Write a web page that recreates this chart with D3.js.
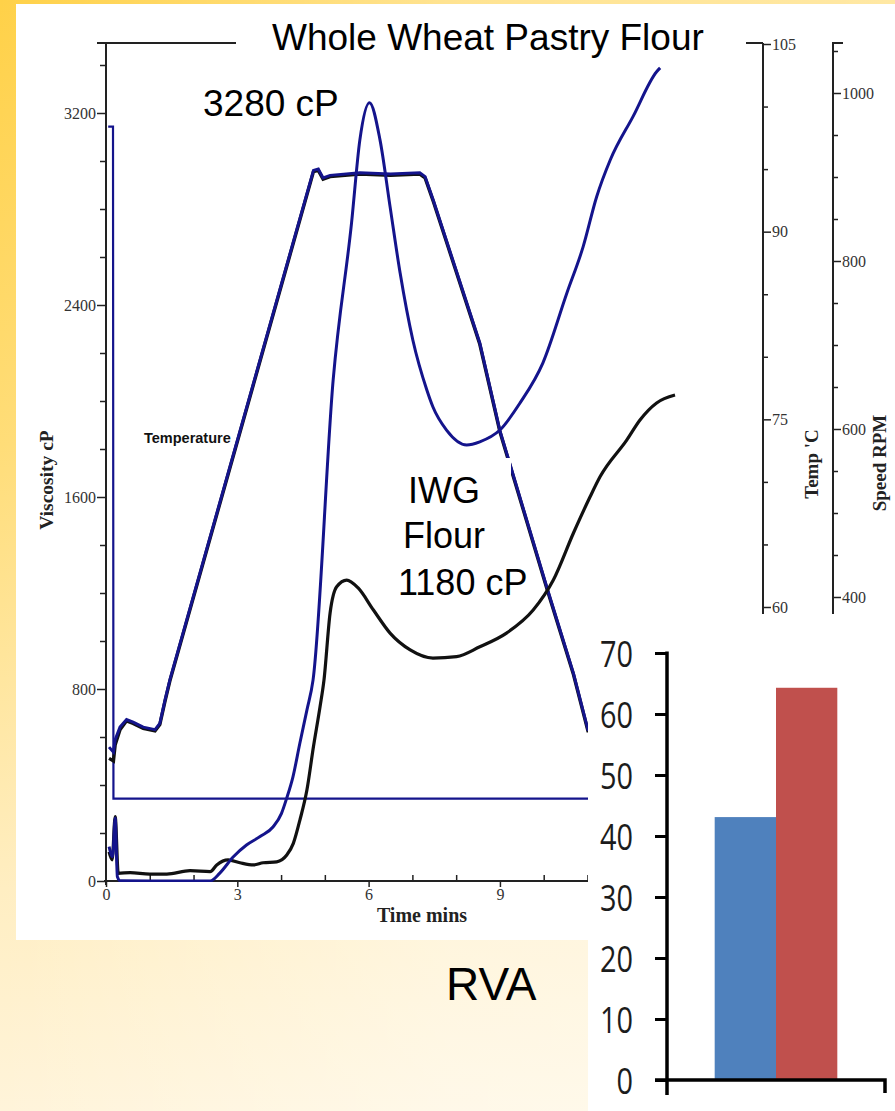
<!DOCTYPE html>
<html><head><meta charset="utf-8">
<script src="https://cdn.jsdelivr.net/npm/d3@7"></script>
<style>html,body{margin:0;padding:0;background:#fff;}svg{display:block;}</style>
</head><body>
<script>
// ---------- DATA ----------
// RVA time axis (minutes)
const timeTicksMajor = [0, 3, 6, 9];
const viscTicksMajor = [0, 800, 1600, 2400, 3200];
const tempTicksMajor = [60, 75, 90, 105];
const speedTicksMajor = [400, 600, 800, 1000];

// Whole wheat pastry flour viscosity (cP) [time, value]
const wwpfTime = [0.07,0.15,0.21,0.26,0.32,1.0,2.38,2.60,2.91,3.21,3.52,3.82,4.01,4.13,4.27,4.43,4.59,4.73,5.19,5.61,5.80,6.02,6.26,6.49,6.72,7.01,7.33,7.47,7.78,8.24,8.54,9.00,9.46,9.98,10.53,10.90,11.21,11.52,12.04,12.58,12.66];
const wwpfVisc = [143,101,262,18,1,0,0,33,101,150,185,226,282,346,433,575,712,837,2088,2742,3088,3243,3088,2810,2533,2254,2046,1975,1879,1817,1830,1879,1992,2158,2450,2642,2851,3004,3185,3372,3388];

// IWG flour viscosity (cP)
const iwgTime = [0.07,0.14,0.21,0.28,0.55,1.0,1.39,1.92,2.38,2.53,2.79,3.06,3.37,3.59,3.90,4.13,4.28,4.43,4.59,4.74,4.89,4.98,5.12,5.27,5.50,5.76,6.11,6.49,6.95,7.47,8.01,8.54,9.15,9.76,10.22,10.68,11.06,11.29,11.90,12.20,12.58,13.0];
const iwgVisc = [121,88,268,32,35,29,29,43,39,67,88,76,67,76,80,108,157,254,379,560,726,837,1117,1226,1254,1221,1129,1033,963,929,935,976,1033,1129,1254,1450,1601,1685,1838,1921,1992,2025];

// Temperature profile (°C)
const tempTime = [0.07,0.17,0.21,0.32,0.47,0.62,0.85,1.12,1.23,1.35,1.46,4.74,4.85,4.96,5.12,5.8,6.5,7.17,7.29,7.48,8.54,9.00,10.07,10.68,11.01,13.0];
const tempBlue = [48.8,48.4,49.4,50.4,51.0,50.8,50.4,50.2,50.7,52.6,54.2,94.9,95.0,94.3,94.5,94.7,94.6,94.7,94.4,92.5,81.1,74.1,61.6,54.7,50.2,50.2];
const tempBlack = [47.9,47.7,49.0,50.2,50.9,50.7,50.3,50.1,50.6,52.5,54.1,94.8,94.9,94.2,94.4,94.6,94.5,94.6,94.3,92.4,81.0,74.0,61.5,54.6,50.1,50.1];

// Paddle speed profile (rpm)
const speedTime = [0.05,0.16,0.17,13.0];
const speedRpm = [960,960,160,160];

// Bar chart
const barCategories = [""];
const barSeries = ["IWG", "WWPF"];
const barValues = [43.1, 64.3];
const barTicks = [0,10,20,30,40,50,60,70];

// ---------- DRAWING ----------
const W = 895, H = 1111;
const svg = d3.select("body").append("svg").attr("width", W).attr("height", H);
const defs = svg.append("defs");
const g1 = defs.append("linearGradient").attr("id","bgv").attr("x1",0).attr("y1",0).attr("x2",0).attr("y2",1);
[[0,"#FFD148"],[0.4,"#FFDD78"],[0.8,"#FFEEC2"],[1,"#FFF4DA"]].forEach(s=>g1.append("stop").attr("offset",s[0]).attr("stop-color",s[1]));
const g2 = defs.append("linearGradient").attr("id","bgh").attr("x1",0).attr("y1",0).attr("x2",1).attr("y2",0);
[[0,0],[0.5,0.4],[1,0.5]].forEach(s=>g2.append("stop").attr("offset",s[0]).attr("stop-color","#fff").attr("stop-opacity",s[1]));
svg.append("rect").attr("width",W).attr("height",H).attr("fill","url(#bgv)");
svg.append("rect").attr("width",W).attr("height",H).attr("fill","url(#bgh)");

// RVA white panel
svg.append("rect").attr("x",16).attr("y",4).attr("width",W-16).attr("height",936).attr("fill","#fff");

const x = d3.scaleLinear().domain([0,13]).range([106, 106+13*43.77]);
const yV = d3.scaleLinear().domain([0,3200]).range([881,113]);
const yT = d3.scaleLinear().domain([60,105]).range([607,44]);
const yS = d3.scaleLinear().domain([400,1000]).range([597,93]);
const fmt = d3.format("d");

const axisCol = "#222";
const serif = "'Liberation Serif','Times New Roman',serif";
const sans = "'Liberation Sans',Arial,sans-serif";
const topY = 43;
const rva = svg.append("g");

// frame top line
rva.append("line").attr("x1",97).attr("x2",763).attr("y1",topY).attr("y2",topY).attr("stroke",axisCol).attr("stroke-width",2);

// left viscosity axis
rva.append("line").attr("x1",x(0)).attr("x2",x(0)).attr("y1",topY).attr("y2",yV(0)+4).attr("stroke",axisCol).attr("stroke-width",2);
const minorV = d3.range(200, yV.invert(topY), 200).filter(v=>v%800!==0);
rva.append("g").attr("transform",`translate(${x(0)},0)`)
  .call(d3.axisLeft(yV).tickValues(minorV).tickSize(6).tickFormat(""))
  .call(g=>g.select(".domain").remove())
  .call(g=>g.selectAll("line").attr("stroke",axisCol).attr("stroke-width",1.5));
rva.append("g").attr("transform",`translate(${x(0)},0)`)
  .call(d3.axisLeft(yV).tickValues(viscTicksMajor).tickSize(9).tickPadding(1).tickFormat(fmt))
  .call(g=>g.select(".domain").remove())
  .call(g=>g.selectAll("line").attr("stroke",axisCol).attr("stroke-width",1.5))
  .call(g=>g.selectAll("text").attr("font-family",serif).attr("font-size",16).attr("fill","#333"));
rva.append("text").attr("transform",`translate(53,${(yV(0)+topY)/2+18}) rotate(-90)`)
  .attr("text-anchor","middle").attr("font-family",serif).attr("font-weight","bold").attr("font-size",19.5).attr("fill","#222").text("Viscosity cP");

// bottom time axis
rva.append("line").attr("x1",x(0)-2).attr("x2",x(13)).attr("y1",yV(0)).attr("y2",yV(0)).attr("stroke",axisCol).attr("stroke-width",2);
rva.append("g").attr("transform",`translate(0,${yV(0)})`)
  .call(d3.axisTop(x).tickValues(d3.range(1,14).filter(t=>t%3!==0)).tickSize(6).tickFormat(""))
  .call(g=>g.select(".domain").remove())
  .call(g=>g.selectAll("line").attr("stroke",axisCol).attr("stroke-width",1.5));
rva.append("g").attr("transform",`translate(0,${yV(0)})`)
  .call(d3.axisBottom(x).tickValues(timeTicksMajor).tickSize(6).tickPadding(2).tickFormat(fmt))
  .call(g=>g.select(".domain").remove())
  .call(g=>g.selectAll("line").attr("stroke",axisCol).attr("stroke-width",1.5))
  .call(g=>g.selectAll("text").attr("font-family",serif).attr("font-size",16).attr("fill","#333"));
rva.append("text").attr("x",422).attr("y",922).attr("text-anchor","middle")
  .attr("font-family",serif).attr("font-weight","bold").attr("font-size",20).attr("fill","#222").text("Time mins");

// temperature axis (right)
const tX = 763;
rva.append("g").attr("transform",`translate(${tX},0)`)
  .call(d3.axisRight(yT).tickValues(d3.range(40,105,5).filter(v=>v%15!==0)).tickSize(5).tickFormat(""))
  .call(g=>g.select(".domain").remove())
  .call(g=>g.selectAll("line").attr("stroke",axisCol).attr("stroke-width",1.5));
rva.append("g").attr("transform",`translate(${tX},0)`)
  .call(d3.axisRight(yT).tickValues(tempTicksMajor).tickSize(8).tickPadding(1).tickFormat(fmt))
  .call(g=>g.select(".domain").remove())
  .call(g=>g.selectAll("line").attr("stroke",axisCol).attr("stroke-width",1.5))
  .call(g=>g.selectAll("text").attr("font-family",serif).attr("font-size",16).attr("fill","#333"));
rva.append("line").attr("x1",tX).attr("x2",tX).attr("y1",topY).attr("y2",yV(0)).attr("stroke",axisCol).attr("stroke-width",2);
rva.append("text").attr("transform",`translate(818,464) rotate(-90)`).attr("text-anchor","middle")
  .attr("font-family",serif).attr("font-weight","bold").attr("font-size",19).attr("fill","#222").text("Temp 'C");

// speed axis (right)
const sX = 833;
rva.append("g").attr("transform",`translate(${sX},0)`)
  .call(d3.axisRight(yS).tickValues(d3.range(100,1060,50).filter(v=>v%200!==0)).tickSize(5).tickFormat(""))
  .call(g=>g.select(".domain").remove())
  .call(g=>g.selectAll("line").attr("stroke",axisCol).attr("stroke-width",1.5));
rva.append("g").attr("transform",`translate(${sX},0)`)
  .call(d3.axisRight(yS).tickValues(speedTicksMajor).tickSize(8).tickPadding(1).tickFormat(fmt))
  .call(g=>g.select(".domain").remove())
  .call(g=>g.selectAll("line").attr("stroke",axisCol).attr("stroke-width",1.5))
  .call(g=>g.selectAll("text").attr("font-family",serif).attr("font-size",16).attr("fill","#333"));
rva.append("path").attr("d",`M${sX+10},${topY}H${sX}V${yV(0)}`).attr("fill","none").attr("stroke",axisCol).attr("stroke-width",2);
rva.append("text").attr("transform",`translate(886,463) rotate(-90)`).attr("text-anchor","middle")
  .attr("font-family",serif).attr("font-weight","bold").attr("font-size",19).attr("fill","#222").text("Speed RPM");

// curves
const navy = "#14148c";
const clip = defs.append("clipPath").attr("id","plotclip");
clip.append("rect").attr("x",x(0)+1).attr("y",topY+1).attr("width",W).attr("height",yV(0)-topY);
const curves = rva.append("g").attr("clip-path","url(#plotclip)");
const lineSmooth = d3.line().curve(d3.curveMonotoneX);
const lineLin = d3.line();

curves.append("path").attr("d",lineLin(speedTime.map((t,i)=>[x(t),yS(speedRpm[i])])))
  .attr("fill","none").attr("stroke",navy).attr("stroke-width",2.2);
curves.append("path").attr("d",lineLin(tempTime.map((t,i)=>[x(t),yT(tempBlack[i])])))
  .attr("fill","none").attr("stroke","#111").attr("stroke-width",3.4);
curves.append("path").attr("d",lineLin(tempTime.map((t,i)=>[x(t),yT(tempBlue[i])])))
  .attr("fill","none").attr("stroke",navy).attr("stroke-width",3);
curves.append("path").attr("d",lineSmooth(iwgTime.map((t,i)=>[x(t),yV(iwgVisc[i])])))
  .attr("fill","none").attr("stroke","#111").attr("stroke-width",3.2).attr("stroke-linejoin","round");
curves.append("path").attr("d",lineSmooth(wwpfTime.map((t,i)=>[x(t),yV(wwpfVisc[i])])))
  .attr("fill","none").attr("stroke",navy).attr("stroke-width",3).attr("stroke-linejoin","round");

rva.append("text").attr("x",144).attr("y",443).attr("font-family",sans).attr("font-weight","bold").attr("font-size",14.5).attr("fill","#111").text("Temperature");

// overlay text labels (with white boxes like the source slide)
const ov = svg.append("g");
ov.append("rect").attr("x",236).attr("y",8).attr("width",510).attr("height",52).attr("fill","#fff");
ov.append("text").attr("x",272).attr("y",50).attr("font-family",sans).attr("font-size",37).attr("fill","#000").text("Whole Wheat Pastry Flour");
ov.append("text").attr("x",203).attr("y",116).attr("font-family",sans).attr("font-size",37).attr("fill","#000").text("3280 cP");
ov.append("rect").attr("x",396).attr("y",458).attr("width",115).attr("height",95).attr("fill","#fff");
ov.append("text").attr("x",408).attr("y",503).attr("font-family",sans).attr("font-size",36).attr("fill","#000").text("IWG");
ov.append("text").attr("x",403).attr("y",548).attr("font-family",sans).attr("font-size",36).attr("fill","#000").text("Flour");
ov.append("text").attr("x",398).attr("y",595).attr("font-family",sans).attr("font-size",36).attr("fill","#000").text("1180 cP");
ov.append("text").attr("x",446).attr("y",1000).attr("font-family",sans).attr("font-size",46).attr("fill","#000").text("RVA");

// ---------- BAR CHART ----------
const bar = svg.append("g");
bar.append("rect").attr("x",588).attr("y",614).attr("width",W-588).attr("height",H-614).attr("fill","#fff");
const yB = d3.scaleLinear().domain([0,70]).range([1080,653]);
const x0 = d3.scaleBand().domain(barCategories).range([667,885]).padding(0.28);
const x1 = d3.scaleBand().domain(barSeries).range([0,x0.bandwidth()]);
const barColors = d3.scaleOrdinal().domain(barSeries).range(["#4F81BD","#C0504D"]);
bar.selectAll("rect.b").data(barSeries.map((s,i)=>({s,v:barValues[i]}))).enter().append("rect").attr("class","b")
  .attr("x",d=>x0(barCategories[0])+x1(d.s)).attr("width",x1.bandwidth())
  .attr("y",d=>yB(d.v)).attr("height",d=>yB(0)-yB(d.v)).attr("fill",d=>barColors(d.s));
const sx = 0.78;
bar.append("g").attr("transform","translate(667,0)")
  .call(d3.axisLeft(yB).tickValues(barTicks).tickSize(12).tickPadding(20))
  .call(g=>g.select(".domain").remove())
  .call(g=>g.selectAll("line").attr("stroke","#000").attr("stroke-width",3))
  .call(g=>g.selectAll("text").attr("font-family","'Open Sans',sans-serif").attr("font-size",37).attr("fill","#1c1c1c")
     .attr("dy","0.36em").attr("x",-34/sx).attr("transform",`scale(${sx},1)`));
bar.append("line").attr("x1",667).attr("x2",667).attr("y1",yB(70)-1.5).attr("y2",yB(0)+15).attr("stroke","#000").attr("stroke-width",3.5);
bar.append("path").attr("d",`M655,${yB(0)}H${x0.range()[1]}V${yB(0)+13}`).attr("fill","none").attr("stroke","#000").attr("stroke-width",3.5);
</script>
</body></html>
